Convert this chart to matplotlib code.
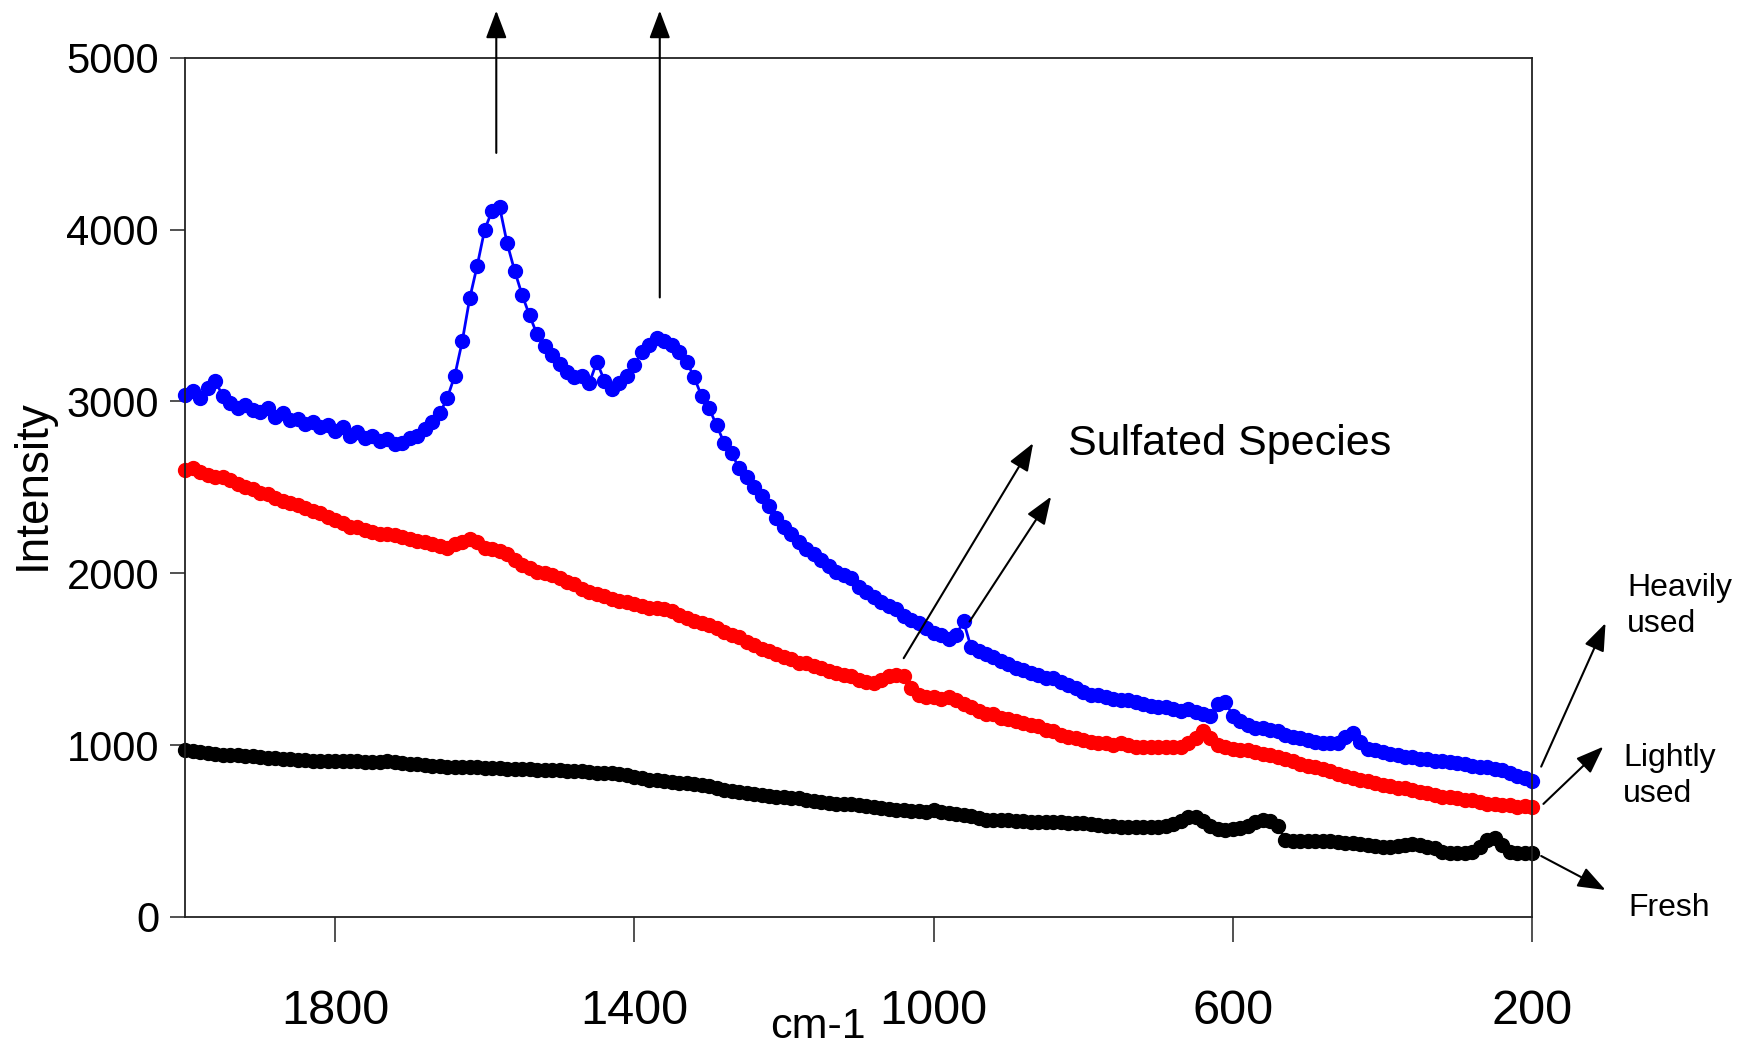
import numpy as np
import matplotlib
matplotlib.use("Agg")
import matplotlib.pyplot as plt

plt.rcParams['font.family'] = ['Liberation Sans', 'DejaVu Sans']

# Raman shift, 2000 -> 200 cm-1, every 10 cm-1
wavenumber = np.arange(2000, 199, -10)

heavily_used = [
    3040, 3060, 3020, 3080, 3120, 3030, 2990, 2960, 2980, 2950,
    2940, 2960, 2910, 2930, 2890, 2900, 2870, 2880, 2850, 2860,
    2830, 2850, 2800, 2820, 2790, 2800, 2770, 2780, 2750, 2760,
    2790, 2800, 2840, 2880, 2930, 3020, 3150, 3350, 3600, 3790,
    4000, 4110, 4130, 3920, 3760, 3620, 3500, 3390, 3320, 3270,
    3220, 3170, 3140, 3150, 3110, 3230, 3120, 3070, 3110, 3150,
    3210, 3290, 3330, 3370, 3350, 3330, 3290, 3230, 3140, 3030,
    2960, 2860, 2760, 2700, 2610, 2560, 2500, 2450, 2390, 2320,
    2270, 2230, 2180, 2140, 2110, 2080, 2040, 2010, 1990, 1970,
    1920, 1890, 1860, 1830, 1810, 1790, 1750, 1730, 1710, 1680,
    1650, 1640, 1620, 1640, 1720, 1570, 1550, 1530, 1510, 1490,
    1470, 1450, 1440, 1420, 1410, 1390, 1390, 1370, 1350, 1330,
    1310, 1290, 1290, 1280, 1270, 1260, 1260, 1250, 1240, 1230,
    1220, 1220, 1210, 1200, 1210, 1190, 1180, 1170, 1240, 1250,
    1170, 1140, 1120, 1100, 1100, 1090, 1080, 1060, 1050, 1040,
    1030, 1020, 1010, 1010, 1010, 1050, 1070, 1020, 980, 970,
    960, 950, 940, 930, 930, 920, 920, 910, 910, 900,
    895, 890, 880, 875, 870, 860, 855, 840, 820, 810,
    790]

lightly_used = [
    2600, 2610, 2590, 2570, 2560, 2560, 2540, 2520, 2500, 2490,
    2470, 2460, 2440, 2420, 2410, 2400, 2380, 2360, 2350, 2330,
    2310, 2290, 2270, 2270, 2250, 2240, 2230, 2230, 2220, 2210,
    2200, 2190, 2180, 2170, 2160, 2150, 2170, 2180, 2200, 2180,
    2150, 2140, 2130, 2110, 2080, 2050, 2030, 2010, 2000, 1990,
    1970, 1950, 1940, 1910, 1890, 1880, 1870, 1850, 1840, 1830,
    1820, 1810, 1800, 1800, 1790, 1780, 1760, 1740, 1720, 1710,
    1700, 1680, 1660, 1640, 1630, 1600, 1580, 1560, 1550, 1530,
    1510, 1500, 1480, 1480, 1460, 1450, 1430, 1420, 1410, 1400,
    1380, 1370, 1360, 1380, 1400, 1410, 1400, 1330, 1290, 1280,
    1280, 1270, 1280, 1260, 1240, 1220, 1200, 1180, 1180, 1160,
    1150, 1140, 1130, 1120, 1110, 1090, 1080, 1060, 1050, 1040,
    1030, 1020, 1010, 1010, 1000, 1010, 1000, 990, 990, 990,
    990, 990, 990, 990, 1010, 1040, 1080, 1040, 1000, 990,
    980, 970, 970, 960, 950, 940, 930, 920, 910, 890,
    880, 870, 860, 850, 830, 820, 810, 800, 790, 780,
    770, 760, 750, 750, 740, 730, 720, 710, 700, 700,
    690, 680, 680, 670, 660, 660, 650, 650, 640, 645,
    640]

fresh = [
    970, 965, 960, 955, 950, 945, 940, 940, 935, 935,
    930, 925, 925, 920, 920, 915, 915, 910, 910, 910,
    910, 905, 905, 905, 900, 900, 900, 905, 900, 895,
    890, 890, 885, 880, 880, 875, 875, 870, 870, 870,
    865, 865, 865, 860, 860, 860, 860, 855, 855, 855,
    855, 850, 850, 850, 845, 840, 840, 835, 830, 825,
    815, 810, 800, 795, 790, 785, 780, 780, 775, 770,
    760, 750, 740, 735, 725, 720, 715, 710, 705, 700,
    700, 695, 690, 680, 675, 670, 665, 660, 660, 655,
    650, 645, 640, 635, 630, 625, 620, 615, 615, 610,
    620, 610, 605, 600, 595, 585, 575, 565, 565, 565,
    565, 560, 560, 555, 555, 555, 550, 550, 545, 545,
    545, 540, 535, 530, 530, 525, 525, 525, 525, 525,
    525, 530, 540, 560, 580, 580, 560, 530, 510, 505,
    510, 520, 530, 550, 565, 560, 530, 450, 440, 440,
    445, 445, 440, 440, 435, 430, 430, 425, 420, 415,
    410, 410, 415, 420, 425, 420, 410, 400, 380, 375,
    370, 375, 380, 410, 450, 460, 420, 380, 375, 375,
    375]

W, H = 1741, 1051
fig = plt.figure(figsize=(W / 100, H / 100), dpi=100)
ax = fig.add_axes([185.4 / W, 1 - 917 / H, (1532.2 - 185.4) / W, (917 - 57.7) / H])

for vals, col in [(heavily_used, 'blue'), (lightly_used, 'red'), (fresh, 'black')]:
    ax.plot(wavenumber, vals, '-o', color=col, lw=2, ms=10, mec=col, mfc=col, clip_on=False)

ax.set_xlim(2000, 200)
ax.set_ylim(0, 5000)
ax.set_xticks([1800, 1400, 1000, 600, 200])
ax.set_yticks([0, 1000, 2000, 3000, 4000, 5000])
ax.tick_params(axis='x', direction='out', length=18, width=1.2, pad=34, labelsize=35,
               colors='#333333', labelcolor='black')
ax.tick_params(axis='y', direction='out', length=11, width=1.2, pad=8, labelsize=30,
               colors='#333333', labelcolor='black')
for sp in ax.spines.values():
    sp.set_linewidth(1.3)
    sp.set_color('#222222')

fig.text(0.019, 0.5385, 'Intensity', rotation=90, fontsize=33, ha='center', va='center')
fig.text(0.47, 0.012, 'cm-1', fontsize=31, ha='center', va='baseline')

# arrows and labels
head = dict(arrowstyle='-|>,head_length=0.85,head_width=0.32', color='black', lw=1.5,
            shrinkA=0, shrinkB=0, mutation_scale=20)
arrows = [((1584.5, 4446), (1584.5, 5274)),
          ((1366, 3605), (1366, 5274)),
          ((1040, 1506), (867, 2757)),
          ((952, 1719), (843, 2446)),
          ((188, 875), (102, 1710)),
          ((185, 658), (105, 991)),
          ((188, 355), (102, 157))]
for start, tip in arrows:
    ax.annotate('', xy=tip, xytext=start, xycoords='data', textcoords='data',
                arrowprops=head, annotation_clip=False)

fig.text(1068 / W, 1 - 444 / H, 'Sulfated Species', fontsize=31, ha='left', va='center')
fig.text(1627 / W, 1 - 606 / H, 'Heavily\nused', fontsize=23, ha='left', va='center', linespacing=1.25)
fig.text(1623 / W, 1 - 776 / H, 'Lightly\nused', fontsize=23, ha='left', va='center', linespacing=1.25)
fig.text(1628 / W, 1 - 908 / H, 'Fresh', fontsize=23, ha='left', va='center')

fig.savefig('out.png', dpi=100)
